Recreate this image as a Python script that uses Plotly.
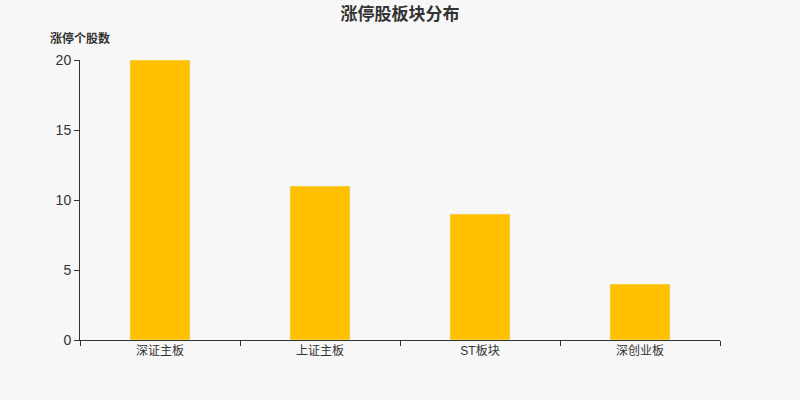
import plotly.graph_objects as go

categories = ["深证主板", "上证主板", "ST板块", "深创业板"]
values = [20, 11, 9, 4]
y_ticks = [0, 5, 10, 15, 20]

bg = "#f7f7f7"
font_family = "Liberation Sans, Noto Sans CJK SC, sans-serif"

fig = go.Figure(go.Bar(x=categories, y=values, marker_color="#ffc000", width=0.375))

fig.update_layout(
    width=800, height=400,
    paper_bgcolor=bg, plot_bgcolor=bg,
    margin=dict(l=80, r=80, t=60, b=60),
    showlegend=False,
    font=dict(family=font_family, color="#333333"),
    title=dict(text="<b>涨停股板块分布</b>", x=0.5, xanchor="center", y=0.965, yanchor="middle",
               font=dict(size=17, color="#333333", family="Noto Sans CJK SC, sans-serif")),
    annotations=[dict(text="<b>涨停个股数</b>", xref="paper", yref="paper", x=0.0, y=1.08,
                      xanchor="center", yanchor="middle", showarrow=False,
                      font=dict(size=12, color="#333333", family="Noto Sans CJK SC, sans-serif"))],
)
fig.update_xaxes(
    showline=True, linecolor="#333333", linewidth=1,
    ticks="outside", tickson="boundaries", ticklen=5, tickcolor="#333333",
    showgrid=False, tickfont=dict(size=12, color="#333333"),
)
fig.update_yaxes(
    range=[0, 20], tickvals=y_ticks, showline=True, linecolor="#333333", linewidth=1,
    ticks="outside", ticklen=5, tickcolor="#333333", showgrid=False, zeroline=False,
    tickfont=dict(size=14, color="#333333"),
)

fig.write_html(
    "out.html",
    config={"displayModeBar": False},
    post_script="document.body.style.margin='0';document.body.style.background='#f7f7f7';",
)
